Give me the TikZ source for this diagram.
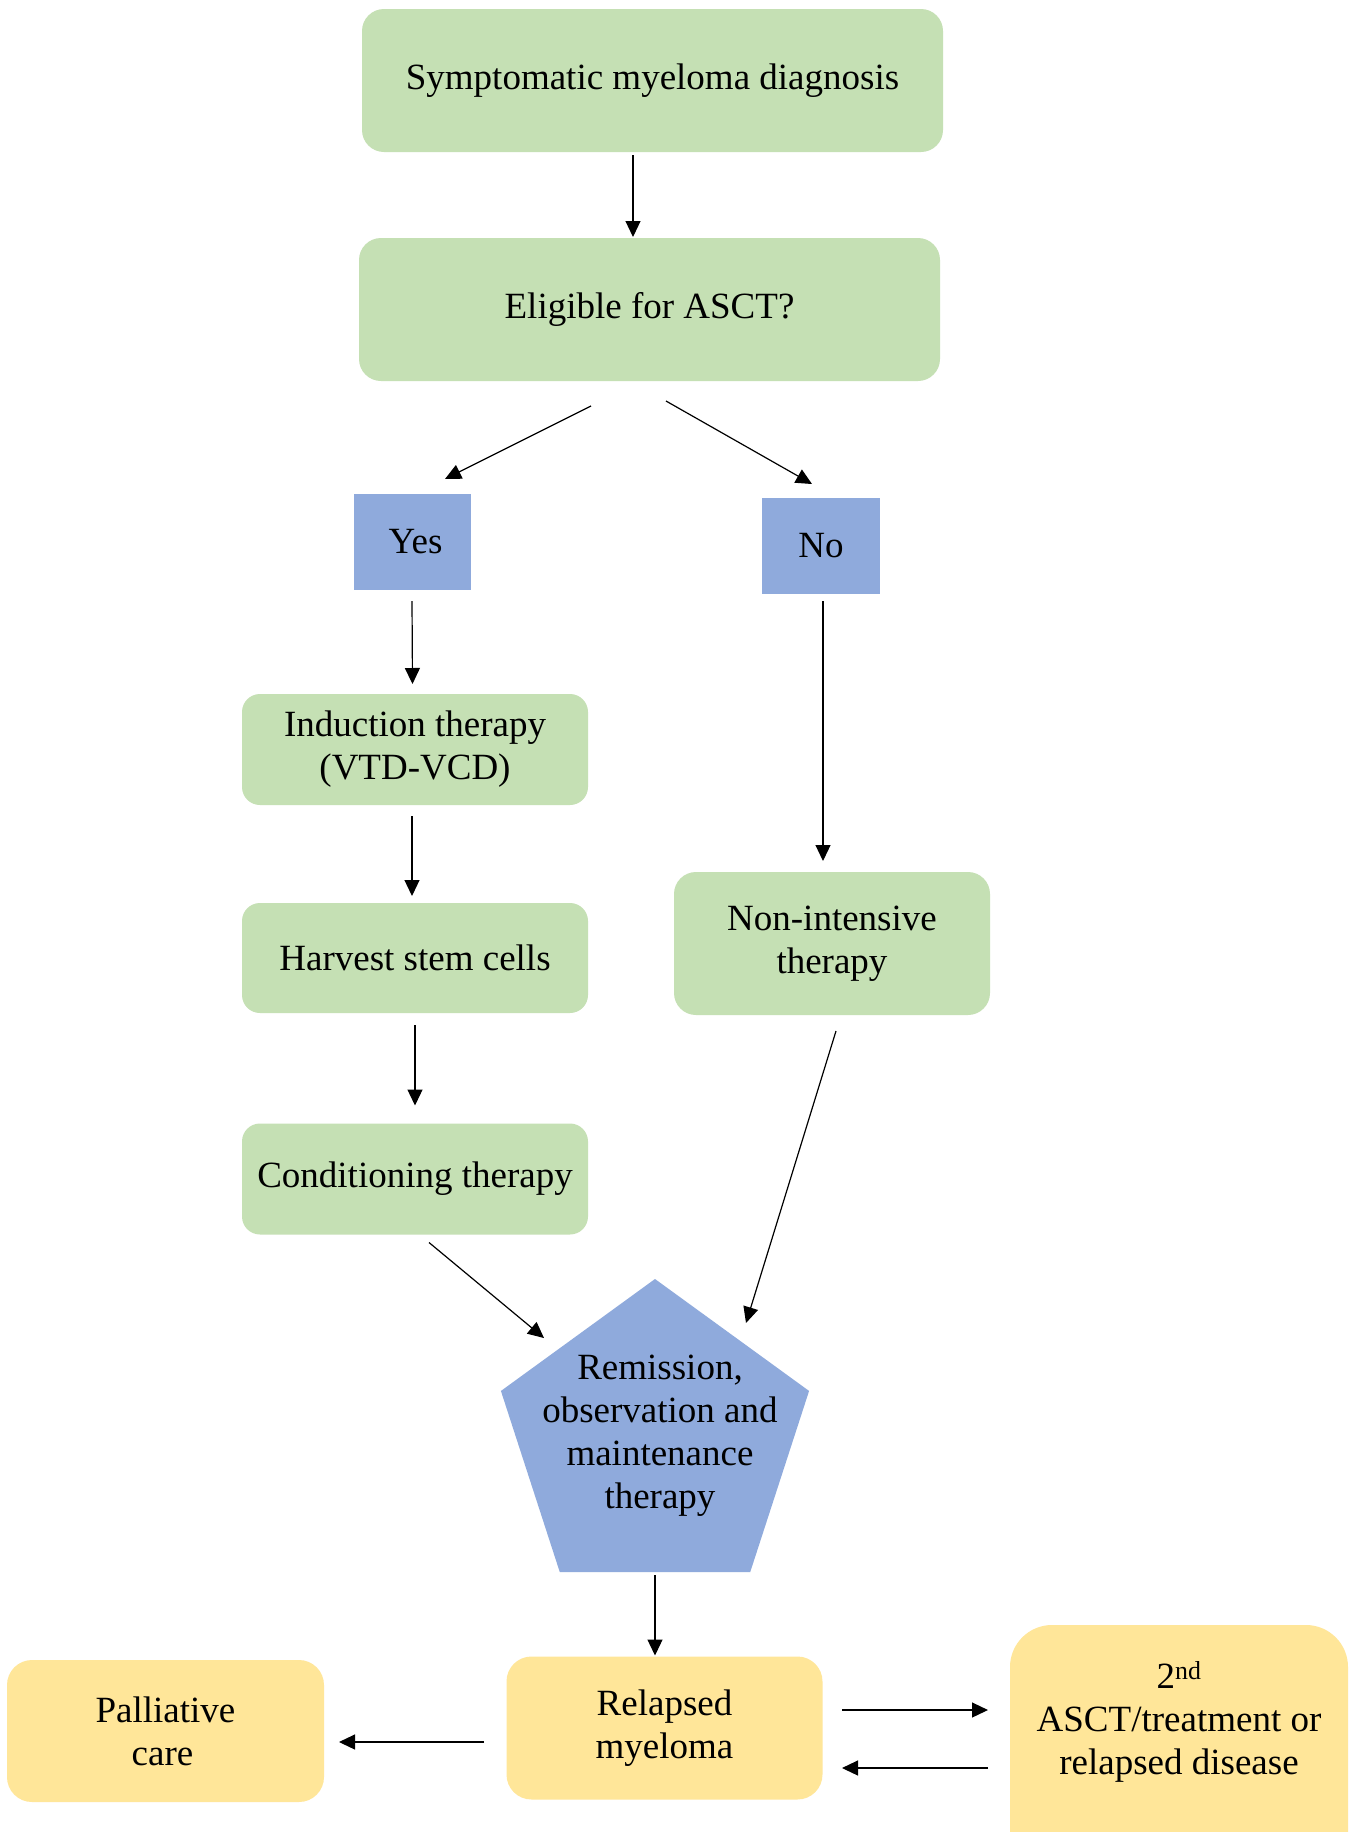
\documentclass[tikz,border=0pt]{standalone}
\usepackage{fontspec}
\setmainfont{Liberation Serif}
\usetikzlibrary{calc,arrows.meta,shapes.geometric}
\definecolor{boxgreen}{HTML}{C5E0B4}
\definecolor{boxblue}{HTML}{8FAADC}
\definecolor{boxyellow}{HTML}{FFE699}
\begin{document}
\begin{tikzpicture}[x=1pt,y=-1pt,
  every node/.style={inner sep=0pt,outer sep=0pt,align=center,font=\fontsize{37}{43}\selectfont},
  gbox/.style={fill=boxgreen,rounded corners=#1},
  gbox/.default=18pt,
  bbox/.style={fill=boxblue},
  ybox/.style={fill=boxyellow,rounded corners=#1},
  ybox/.default=25pt,
  arr/.style={line width=1.2pt,-{Triangle[length=16pt,width=15pt]}}]
\clip (0,0) rectangle (1355,1832);
\fill[white] (0,0) rectangle (1355,1832);
% nodes
\node[gbox=22pt,minimum width=581pt,minimum height=143pt] (diag) at (652.5,80.5) {Symptomatic myeloma diagnosis};
\node[gbox=22pt,minimum width=581pt,minimum height=143pt] (elig) at (649.5,309.5) {Eligible for ASCT?};
\node[bbox,minimum width=117pt,minimum height=96pt] (yes) at (412.5,542) {\hspace*{6pt}Yes};
\node[bbox,minimum width=118pt,minimum height=96pt] (no) at (821,546) {No};
\node[gbox,minimum width=346pt,minimum height=111pt] (ind) at (415,749.5) {Induction therapy\\(VTD-VCD)};
\node[gbox,minimum width=346pt,minimum height=110pt] (harv) at (415,958) {Harvest stem cells};
\node[gbox,minimum width=346pt,minimum height=111pt] (cond) at (415,1179) {Conditioning therapy};
\node[gbox=22pt,minimum width=316pt,minimum height=143pt] (nonint) at (832,943.5) {Non-intensive\\therapy};
\node[regular polygon,regular polygon sides=5,minimum size=324pt,fill=boxblue] (pent) at (655,1441) {};
\node (pentt) at (660,1436) {Remission,\\observation and\\maintenance\\therapy};
\node[ybox,minimum width=316pt,minimum height=143pt] (rel) at (664.5,1728) {Relapsed\\myeloma};
\node[ybox,minimum width=317pt,minimum height=142pt] (pal) at (165.5,1731) {Palliative\\care\hspace*{6pt}};
\node[ybox=42pt,minimum width=338pt,minimum height=250pt] (asct) at (1179,1750) {};
\node (asctt) at (1179,1722) {2\textsuperscript{nd}\\ASCT/treatment or\\relapsed disease};
% connectors
\draw[arr] ($(diag.south)+(-19.5,3)$) -- ($(elig.north)+(-16.5,-1)$);
\draw[arr] ($(elig.south)+(-58.5,25)$) -- ($(yes.north)+(32.5,-15)$);
\draw[arr] ($(elig.south)+(16.5,20)$) -- ($(no.north)+(-9,-14)$);
\draw[arr] ($(yes.south)+(-0.5,11)$) -- ($(ind.north)+(-2.5,-10)$);
\draw[arr] ($(ind.south)+(-3,11)$) -- ($(harv.north)+(-3,-7)$);
\draw[arr] ($(harv.south)+(0,12)$) -- ($(cond.north)+(0,-18)$);
\draw[arr] ($(no.south)+(2,7)$) -- ($(nonint.north)+(-9,-11)$);
\draw[arr] ($(nonint.south)+(4,16)$) -- ($(pent.center)+(91,-118)$);
\draw[arr] ($(cond.south)+(14,8)$) -- ($(pent.center)+(-111,-103)$);
\draw[arr] ($(pent.center)+(0,134)$) -- ($(rel.north)+(-9.5,-1)$);
\draw[arr] ($(rel.west)+(-22.5,14)$) -- ($(pal.east)+(15,11)$);
\draw[arr] ($(rel.east)+(19.5,-18)$) -- ($(asct.west)+(-22,-40)$);
\draw[arr] ($(asct.west)+(-22,18)$) -- ($(rel.east)+(19.5,40)$);
\end{tikzpicture}
\end{document}
